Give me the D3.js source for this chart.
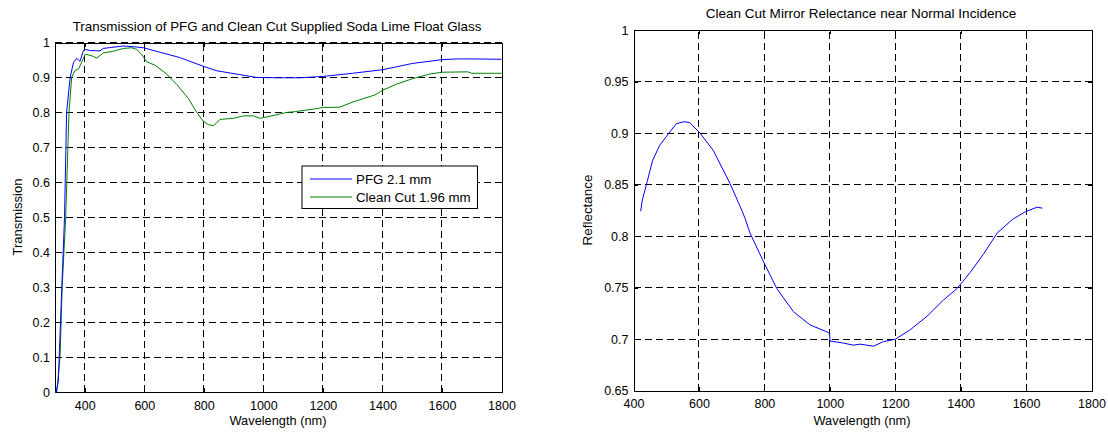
<!DOCTYPE html>
<html>
<head>
<meta charset="utf-8">
<script src="https://cdn.jsdelivr.net/npm/d3@7"></script>
<style>
  body { margin: 0; background: #fff; }
  svg { font-family: "Liberation Sans", Arial, sans-serif; }
</style>
</head>
<body>
<div id="chart"></div>
<script>
(function () {
    // left plot: transmission
    const pfgWave = [300, 304, 311, 323, 332, 339, 351, 362, 373, 384, 395, 402, 420, 451, 462, 490, 530, 575, 597, 653, 719, 798, 844, 921, 977, 1050, 1123, 1201, 1300, 1400, 1500, 1600, 1650, 1700, 1800];
    const pfgVal  = [0, 0, 0.03, 0.3, 0.5, 0.8, 0.9, 0.943, 0.955, 0.946, 0.976, 0.98, 0.977, 0.976, 0.983, 0.986, 0.99, 0.987, 0.985, 0.972, 0.957, 0.932, 0.919, 0.908, 0.9, 0.899, 0.899, 0.903, 0.912, 0.922, 0.94, 0.951, 0.953, 0.953, 0.952];

    const cleanWave = [300, 306, 317, 324, 336, 347, 356, 367, 380, 398, 402, 430, 440, 462, 496, 530, 558, 575, 592, 608, 636, 675, 709, 748, 776, 798, 815, 832, 843, 854, 899, 933, 967, 989, 1012, 1079, 1105, 1172, 1201, 1257, 1301, 1375, 1402, 1448, 1503, 1560, 1603, 1687, 1700, 1800];
    const cleanVal  = [0, 0, 0.1, 0.3, 0.5, 0.8, 0.9, 0.92, 0.925, 0.96, 0.967, 0.96, 0.955, 0.97, 0.975, 0.983, 0.985, 0.98, 0.965, 0.945, 0.935, 0.91, 0.88, 0.84, 0.8, 0.775, 0.765, 0.762, 0.77, 0.78, 0.783, 0.79, 0.79, 0.783, 0.787, 0.8, 0.802, 0.81, 0.814, 0.815, 0.83, 0.85, 0.864, 0.881, 0.897, 0.91, 0.915, 0.916, 0.912, 0.912];

    // right plot: reflectance
    const reflWave = [422, 427, 442, 458, 480, 511, 531, 555, 572, 603, 644, 695, 731, 741, 756, 799, 838, 889, 940, 991, 999, 1001, 1042, 1072, 1093, 1134, 1164, 1200, 1246, 1297, 1348, 1389, 1430, 1471, 1512, 1558, 1598, 1634, 1650];
    const reflVal  = [0.824, 0.835, 0.853, 0.873, 0.888, 0.901, 0.909, 0.911, 0.91, 0.9, 0.883, 0.851, 0.825, 0.817, 0.803, 0.774, 0.749, 0.7265, 0.7136, 0.707, 0.7055, 0.698, 0.696, 0.694, 0.695, 0.693, 0.6975, 0.6997, 0.709, 0.722, 0.738, 0.749, 0.765, 0.783, 0.803, 0.816, 0.8236, 0.828, 0.827];

    const leftXTicks = [400, 600, 800, 1000, 1200, 1400, 1600, 1800];
    const leftYTicks = [0, 0.1, 0.2, 0.3, 0.4, 0.5, 0.6, 0.7, 0.8, 0.9, 1];
    const rightXTicks = [400, 600, 800, 1000, 1200, 1400, 1600, 1800];
    const rightYTicks = [0.65, 0.7, 0.75, 0.8, 0.85, 0.9, 0.95, 1];

    const legendNames = ['PFG 2.1 mm', 'Clean Cut 1.96 mm'];
    const blue = '#0000ff';
    const green = '#008000';

    const width = 1108;
    const height = 432;

    var svg = d3.select('#chart').append('svg')
        .attr('width', width)
        .attr('height', height);

    // size a text so it spans the width seen in the reference
    function fitText(sel, target) {
        var w = sel.node().getComputedTextLength();
        if (w > 0) sel.style('font-size', (12 * target / w) + 'px');
        return sel;
    }

    function makePanel(box, xDomain, yDomain, xTicks, yTicks, yFormat) {
        var g = svg.append('g');
        var x = d3.scaleLinear().domain(xDomain).range([box.left, box.right]);
        var y = d3.scaleLinear().domain(yDomain).range([box.bottom, box.top]);

        // grid
        var grid = g.append('g').attr('stroke', '#000').attr('stroke-width', 1)
            .attr('stroke-dasharray', '7,4').attr('shape-rendering', 'crispEdges');
        xTicks.forEach(function (t) {
            if (t === xDomain[0] || t === xDomain[1]) return;
            grid.append('line').attr('x1', x(t)).attr('x2', x(t))
                .attr('y1', box.bottom).attr('y2', box.top);
        });
        yTicks.forEach(function (t) {
            if (t === yDomain[0]) return;
            grid.append('line').attr('x1', box.left).attr('x2', box.right)
                .attr('y1', y(t)).attr('y2', y(t));
        });

        // axes with inward ticks
        var xAxis = g.append('g').attr('transform', 'translate(0,' + box.bottom + ')')
            .call(d3.axisBottom(x).tickValues(xTicks).tickSize(-4).tickPadding(9).tickFormat(d3.format('d')));
        var yAxis = g.append('g').attr('transform', 'translate(' + box.left + ',0)')
            .call(d3.axisLeft(y).tickValues(yTicks).tickSize(-4).tickPadding(5).tickFormat(yFormat));
        var xTop = g.append('g').attr('transform', 'translate(0,' + box.top + ')')
            .call(d3.axisTop(x).tickValues(xTicks).tickSize(-4).tickFormat(''));
        var yRight = g.append('g').attr('transform', 'translate(' + box.right + ',0)')
            .call(d3.axisRight(y).tickValues(yTicks).tickSize(-4).tickFormat(''));
        [xAxis, yAxis, xTop, yRight].forEach(function (a) {
            a.selectAll('path').attr('stroke', '#000').attr('shape-rendering', 'crispEdges');
            a.selectAll('line').attr('stroke', '#000').attr('shape-rendering', 'crispEdges');
            a.selectAll('text').attr('fill', '#000').style('font-size', '12.5px')
                .style('font-family', '"Liberation Sans", Arial, sans-serif');
        });
        return { g: g, x: x, y: y };
    }

    // ---- left panel
    var leftBox = { left: 55, right: 501.5, top: 42.5, bottom: 392 };
    var lp = makePanel(leftBox, [300, 1800], [0, 1], leftXTicks, leftYTicks, d3.format('~g'));

    var line = d3.line()
        .x(function (d) { return lp.x(d[0]); })
        .y(function (d) { return lp.y(d[1]); });

    lp.g.append('path')
        .attr('d', line(d3.zip(cleanWave, cleanVal)))
        .attr('fill', 'none').attr('stroke', green).attr('stroke-width', 1);
    lp.g.append('path')
        .attr('d', line(d3.zip(pfgWave, pfgVal)))
        .attr('fill', 'none').attr('stroke', blue).attr('stroke-width', 1);

    // legend
    var lg = lp.g.append('g').attr('transform', 'translate(302,166)');
    lg.append('rect').attr('x', 0).attr('y', 0).attr('width', 175.5).attr('height', 42.5)
        .attr('fill', '#fff').attr('stroke', '#000').attr('stroke-width', 1);
    [blue, green].forEach(function (c, i) {
        var yy = 13 + i * 18;
        lg.append('line').attr('x1', 8).attr('x2', 50).attr('y1', yy).attr('y2', yy)
            .attr('stroke', c).attr('stroke-width', 1);
        var t = lg.append('text').attr('x', 54).attr('y', yy + 4.5).text(legendNames[i])
            .style('font-size', '12px');
        if (i === 0) fitText(t, 75.5);
        else t.style('font-size', lg.select('text').style('font-size'));
    });

    fitText(svg.append('text').attr('x', 277).attr('y', 31).attr('text-anchor', 'middle')
        .style('font-size', '12px').text('Transmission of PFG and Clean Cut Supplied Soda Lime Float Glass'), 409);
    fitText(svg.append('text').attr('x', 278).attr('y', 425).attr('text-anchor', 'middle')
        .style('font-size', '12px').text('Wavelength (nm)'), 97);
    fitText(svg.append('text').attr('transform', 'translate(22,217) rotate(-90)').attr('text-anchor', 'middle')
        .style('font-size', '12px').text('Transmission'), 77);

    // ---- right panel
    var rightBox = { left: 633.5, right: 1091.5, top: 30, bottom: 390.5 };
    var rp = makePanel(rightBox, [400, 1800], [0.65, 1], rightXTicks, rightYTicks, d3.format('~g'));

    var rline = d3.line()
        .x(function (d) { return rp.x(d[0]); })
        .y(function (d) { return rp.y(d[1]); });
    rp.g.append('path')
        .attr('d', rline(d3.zip(reflWave, reflVal)))
        .attr('fill', 'none').attr('stroke', blue).attr('stroke-width', 1);

    fitText(svg.append('text').attr('x', 861).attr('y', 18).attr('text-anchor', 'middle')
        .style('font-size', '12px').text('Clean Cut Mirror Relectance near Normal Incidence'), 311);
    fitText(svg.append('text').attr('x', 862).attr('y', 425).attr('text-anchor', 'middle')
        .style('font-size', '12px').text('Wavelength (nm)'), 97);
    fitText(svg.append('text').attr('transform', 'translate(592,210) rotate(-90)').attr('text-anchor', 'middle')
        .style('font-size', '12px').text('Reflectance'), 71);
})();
</script>
</body>
</html>
